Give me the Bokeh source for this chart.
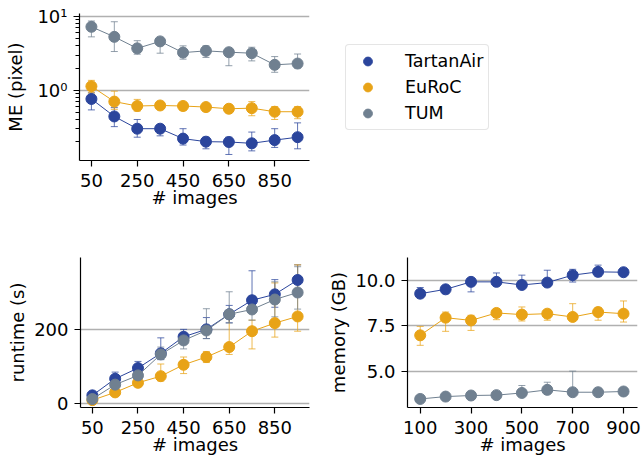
from bokeh.plotting import figure
from bokeh.models import (ColumnDataSource, Whisker, TeeHead, FixedTicker, Range1d,
                          Legend, LegendItem, NumeralTickFormatter)
from bokeh.layouts import column, row
from bokeh.embed import file_html
from bokeh.resources import INLINE

FONT = "DejaVu Sans"
FS = "18px"

names = ["TartanAir", "EuRoC", "TUM"]
colors = ["#2b459c", "#e8a317", "#708090"]

# ---- ME (pixel), log scale ----
x_me = [50, 150, 250, 350, 450, 550, 650, 750, 850, 950]
me_tartan = [0.76, 0.44, 0.30, 0.30, 0.22, 0.20, 0.198, 0.19, 0.21, 0.23]
me_tartan_lo = [0.54, 0.32, 0.23, 0.24, 0.18, 0.16, 0.134, 0.15, 0.167, 0.16]
me_tartan_hi = [0.92, 0.58, 0.40, 0.34, 0.30, 0.23, 0.23, 0.27, 0.30, 0.36]
me_euroc = [1.13, 0.70, 0.61, 0.62, 0.61, 0.59, 0.56, 0.57, 0.51, 0.51]
me_euroc_lo = [0.92, 0.55, 0.52, 0.56, 0.53, 0.52, 0.50, 0.45, 0.40, 0.41]
me_euroc_hi = [1.36, 0.97, 0.75, 0.68, 0.67, 0.66, 0.64, 0.70, 0.60, 0.60]
me_tum = [7.26, 5.3, 3.7, 4.6, 3.24, 3.42, 3.28, 3.18, 2.21, 2.3]
me_tum_lo = [5.3, 3.35, 3.08, 3.18, 2.64, 2.78, 2.15, 2.5, 1.75, 2.0]
me_tum_hi = [8.7, 8.5, 4.7, 4.9, 4.0, 4.0, 3.52, 3.83, 2.86, 3.1]

# ---- runtime (s) ----
x_rt = [50, 150, 250, 350, 450, 550, 650, 750, 850, 950]
rt_tartan = [21, 66, 95, 135, 180, 200, 241, 279, 295, 334]
rt_tartan_lo = [16, 52, 78, 118, 160, 175, 218, 250, 260, 290]
rt_tartan_hi = [26, 84, 113, 177, 200, 232, 265, 359, 335, 375]
rt_euroc = [8, 29, 55, 73, 104, 125, 152, 195, 217, 235]
rt_euroc_lo = [5, 24, 48, 60, 80, 110, 132, 147, 179, 195]
rt_euroc_hi = [11, 35, 62, 106, 125, 140, 249, 225, 326, 375]
rt_tum = [11, 50, 75, 132, 170, 197, 241, 254, 281, 300]
rt_tum_lo = [7, 42, 65, 118, 147, 175, 217, 225, 234, 255]
rt_tum_hi = [15, 58, 85, 152, 190, 256, 302, 290, 329, 370]

# ---- memory (GB) ----
x_mem = [100, 200, 300, 400, 500, 600, 700, 800, 900]
mem_tartan = [9.26, 9.50, 9.91, 9.91, 9.74, 9.87, 10.28, 10.46, 10.44]
mem_tartan_lo = [9.10, 9.26, 9.36, 9.72, 9.60, 9.70, 9.90, 10.20, 10.40]
mem_tartan_hi = [9.60, 9.63, 10.0, 10.40, 10.28, 10.55, 10.60, 10.83, 10.48]
mem_euroc = [6.97, 7.94, 7.79, 8.20, 8.11, 8.16, 7.98, 8.25, 8.16]
mem_euroc_lo = [6.42, 7.19, 7.24, 7.83, 7.76, 7.80, 7.80, 7.80, 7.70]
mem_euroc_hi = [7.46, 8.25, 8.07, 8.35, 8.53, 8.35, 8.71, 8.50, 8.86]
mem_tum = [3.47, 3.60, 3.66, 3.68, 3.80, 3.97, 3.84, 3.84, 3.88]
mem_tum_lo = [3.40, 3.55, 3.60, 3.62, 3.70, 3.85, 3.80, 3.80, 3.84]
mem_tum_hi = [3.55, 3.65, 3.72, 3.74, 4.21, 4.39, 5.00, 3.90, 3.92]

me_ticks = [1, 10]
me_minor = [0.2, 0.3, 0.4, 0.5, 0.6, 0.7, 0.8, 0.9, 2, 3, 4, 5, 6, 7, 8, 9]
me_labels = {1: "10\u2070", 10: "10\u00b9"}
x_ticks_a = [50, 250, 450, 650, 850]
rt_ticks = [0, 200, 400]
x_ticks_mem = [100, 300, 500, 700, 900]
mem_ticks = [5.0, 7.5, 10.0]


def style(p, xticks, yticks, ylabel, yminor=None):
    p.outline_line_color = None
    p.background_fill_color = "white"
    p.border_fill_color = "white"
    xt = FixedTicker(ticks=xticks)
    yt = FixedTicker(ticks=yticks, minor_ticks=yminor or [])
    p.xaxis.ticker = xt
    p.yaxis.ticker = yt
    p.xgrid.visible = False
    p.ygrid.ticker = yt
    p.ygrid.grid_line_color = "#b0b0b0"
    p.ygrid.grid_line_width = 1.5
    p.xaxis.axis_label = "# images"
    p.yaxis.axis_label = ylabel
    for ax in (p.xaxis[0], p.yaxis[0]):
        ax.axis_line_color = "black"
        ax.axis_line_width = 1.2
        ax.major_tick_line_color = "black"
        ax.major_tick_line_width = 1.2
        ax.major_tick_out = 6
        ax.major_tick_in = 0
        ax.minor_tick_out = 4
        ax.minor_tick_in = 0
        ax.minor_tick_line_color = "black"
        ax.minor_tick_line_width = 1
        ax.major_label_text_font = FONT
        ax.major_label_text_font_size = FS
        ax.major_label_text_color = "black"
        ax.axis_label_text_font = FONT
        ax.axis_label_text_font_size = FS
        ax.axis_label_text_font_style = "normal"
        ax.axis_label_text_color = "black"
    p.xaxis.minor_tick_line_color = None
    p.xaxis.major_label_standoff = 7
    p.xaxis.axis_label_standoff = -3
    p.yaxis.major_label_standoff = 6
    if not yminor:
        p.yaxis.minor_tick_line_color = None


def series(p, x, y, lo, hi, color):
    src = ColumnDataSource(dict(x=x, y=y, lo=lo, hi=hi))
    head = dict(size=7, line_color=color, line_alpha=0.75, line_width=1)
    w = Whisker(base="x", lower="lo", upper="hi", source=src, dimension="height",
                line_color=color, line_alpha=0.75, line_width=1,
                upper_head=TeeHead(**head), lower_head=TeeHead(**head))
    p.add_layout(w)
    p.line("x", "y", source=src, line_color=color, line_width=1)
    return p.scatter("x", "y", source=src, size=11, fill_color=color, line_color=color)


common = dict(toolbar_location=None, output_backend="svg")

# top-left: ME
p1 = figure(width=325, height=247, y_axis_type="log",
            x_range=Range1d(-2, 1002), y_range=Range1d(0.111, 11.0),
            min_border_left=79, min_border_right=16, min_border_top=13, min_border_bottom=87,
            **common)
style(p1, x_ticks_a, me_ticks, "ME (pixel)", me_minor)
p1.yaxis.major_label_overrides = me_labels
p1.yaxis.axis_label_standoff = 8
series(p1, x_me, me_tartan, me_tartan_lo, me_tartan_hi, colors[0])
series(p1, x_me, me_euroc, me_euroc_lo, me_euroc_hi, colors[1])
series(p1, x_me, me_tum, me_tum_lo, me_tum_hi, colors[2])

# legend panel
pl = figure(width=317, height=247, x_range=Range1d(0, 1), y_range=Range1d(0, 1),
            x_axis_location=None, y_axis_location=None,
            min_border_left=20, min_border_top=13, min_border_right=0, min_border_bottom=87,
            **common)
pl.grid.visible = False
pl.outline_line_color = None
lr = [pl.scatter(x=[-5], y=[-5], size=11, fill_color=c, line_color=c) for c in colors]
leg = Legend(items=[LegendItem(label=n, renderers=[r]) for n, r in zip(names, lr)],
             location=(0, 30), margin=0, padding=5, spacing=4, glyph_width=33, glyph_height=22,
             label_height=22, label_standoff=21,
             label_text_font=FONT, label_text_font_size="17.5px", label_text_color="black",
             border_line_color="#cccccc", border_line_width=1.5, border_radius=4,
             background_fill_color="white", background_fill_alpha=1)
pl.add_layout(leg)

# bottom-left: runtime
p2 = figure(width=320, height=214, x_range=Range1d(-2, 1002), y_range=Range1d(-12, 395),
            min_border_left=80, min_border_right=11, min_border_top=10, min_border_bottom=54,
            **common)
style(p2, x_ticks_a, rt_ticks, "runtime (s)")
p2.yaxis.axis_label_standoff = 3
series(p2, x_rt, rt_tartan, rt_tartan_lo, rt_tartan_hi, colors[0])
series(p2, x_rt, rt_euroc, rt_euroc_lo, rt_euroc_hi, colors[1])
series(p2, x_rt, rt_tum, rt_tum_lo, rt_tum_hi, colors[2])

# bottom-right: memory
p3 = figure(width=322, height=214, x_range=Range1d(50, 955), y_range=Range1d(3.0, 11.25),
            min_border_left=87, min_border_right=5, min_border_top=10, min_border_bottom=54,
            **common)
style(p3, x_ticks_mem, mem_ticks, "memory (GB)")
p3.yaxis.formatter = NumeralTickFormatter(format="0.0")
p3.yaxis.axis_label_standoff = 3
series(p3, x_mem, mem_tartan, mem_tartan_lo, mem_tartan_hi, colors[0])
series(p3, x_mem, mem_euroc, mem_euroc_lo, mem_euroc_hi, colors[1])
series(p3, x_mem, mem_tum, mem_tum_lo, mem_tum_hi, colors[2])

layout = column(row(p1, pl), row(p2, p3))
open("out.html", "w").write(file_html(layout, INLINE))
